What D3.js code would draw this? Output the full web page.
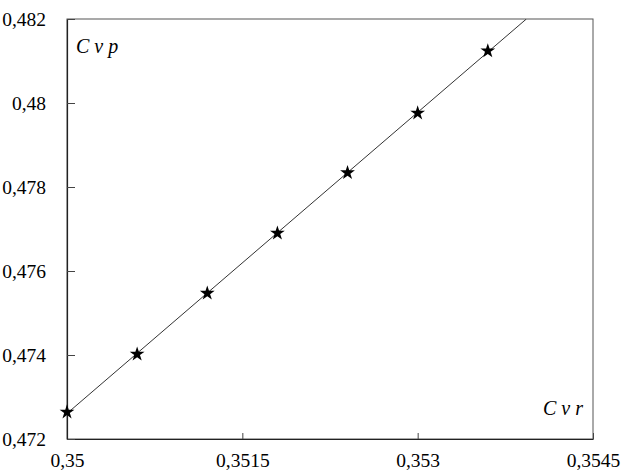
<!DOCTYPE html>
<html>
<head>
<meta charset="utf-8">
<script src="https://cdn.jsdelivr.net/npm/d3@7"></script>
<style>
  html, body { margin: 0; padding: 0; background: #fff; }
  svg { display: block; }
</style>
</head>
<body>
<svg id="chart" width="623" height="471"></svg>
<script>
// Cvr (x) against Cvp (y)
const cvr = [0.35, 0.3506, 0.3512, 0.3518, 0.3524, 0.353, 0.3536];
const cvp = [0.47264, 0.47402, 0.47547, 0.47690, 0.47834, 0.47976, 0.48124];
const xTicks = [0.35, 0.3515, 0.353, 0.3545];
const yTicks = [0.472, 0.474, 0.476, 0.478, 0.48, 0.482];

const SERIF = "'Times New Roman', Tinos, 'Liberation Serif', 'DejaVu Serif', serif";
const svg = d3.select("#chart");
const margin = { left: 67, right: 30, top: 19, bottom: 32 };
const W = 623, H = 471;

const x = d3.scaleLinear().domain([0.35, 0.3545]).range([margin.left, W - margin.right]);
const y = d3.scaleLinear().domain([0.472, 0.482]).range([H - margin.bottom, margin.top]);

const fmt = d => d3.format("")(d).replace(".", ",");

// frame
svg.append("rect")
  .attr("x", x.range()[0]).attr("y", y.range()[1])
  .attr("width", x.range()[1] - x.range()[0])
  .attr("height", y.range()[0] - y.range()[1])
  .attr("fill", "none").attr("stroke", "#555").attr("stroke-width", 1);

const xAxis = svg.append("g")
  .attr("transform", `translate(0,${y.range()[0]})`)
  .call(d3.axisBottom(x).tickValues(xTicks).tickFormat(fmt).tickSizeInner(-6).tickSizeOuter(0).tickPadding(14));
const yAxis = svg.append("g")
  .attr("transform", `translate(${x.range()[0]},0)`)
  .call(d3.axisLeft(y).tickValues(yTicks).tickFormat(fmt).tickSizeInner(-8).tickSizeOuter(0).tickPadding(21));
[xAxis, yAxis].forEach(g => {
  g.attr("font-family", null).attr("font-size", null);
  g.selectAll(".tick text")
    .style("font-family", SERIF).style("font-size", "19.5px")
    .attr("fill", "#000");
  g.select(".domain").attr("stroke", "#222").attr("stroke-width", 1.2);
  g.selectAll(".tick line").attr("stroke", "#444");
});

// least-squares line through the points, clipped to the frame
const mx = d3.mean(cvr), my = d3.mean(cvp);
const slope = d3.sum(cvr, (v, i) => (v - mx) * (cvp[i] - my)) / d3.sum(cvr, v => (v - mx) ** 2);
const icpt = my - slope * mx;
const xEnd = (0.482 - icpt) / slope;

svg.append("clipPath").attr("id", "plot")
  .append("rect")
  .attr("x", x.range()[0]).attr("y", y.range()[1])
  .attr("width", x.range()[1] - x.range()[0])
  .attr("height", y.range()[0] - y.range()[1]);

svg.append("line")
  .attr("clip-path", "url(#plot)")
  .attr("x1", x(0.35)).attr("y1", y(icpt + slope * 0.35))
  .attr("x2", x(xEnd)).attr("y2", y(0.482))
  .attr("stroke", "#333").attr("stroke-width", 1);

const star = d3.symbol().type(d3.symbolStar).size(68);
svg.append("g").selectAll("path")
  .data(cvr.map((v, i) => [v, cvp[i]]))
  .join("path")
  .attr("d", star)
  .attr("transform", d => `translate(${x(d[0])},${y(d[1])})`)
  .attr("fill", "#000");

// axis names
const lab = (txt, px, py, anchor) => svg.append("text")
  .attr("x", px).attr("y", py).attr("text-anchor", anchor)
  .style("font-family", SERIF)
  .style("font-style", "italic").style("font-size", "20px").attr("fill", "#000")
  .attr("xml:space", "preserve")
  .text(txt);
lab("C v p", 76, 53, "start");
lab("C v r", 583, 415, "end");
</script>
</body>
</html>
